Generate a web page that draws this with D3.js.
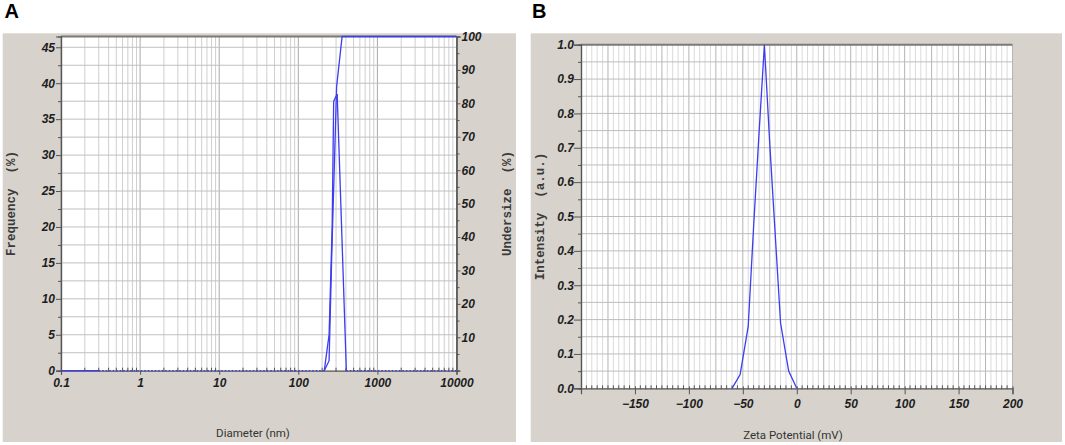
<!DOCTYPE html>
<html>
<head>
<meta charset="utf-8">
<script src="https://cdn.jsdelivr.net/npm/d3@7"></script>
<style>
    body { margin: 0; background: #ffffff; }
    svg { display: block; }
    .tick text { font-family: "Liberation Sans", Arial, sans-serif; font-weight: bold; font-style: italic; font-size: 12px; fill: #1e1e1e; }
    .ytitle { font-family: "Liberation Mono", "DejaVu Sans Mono", monospace; font-weight: bold; font-size: 12.5px; fill: #3a3a3a; }
    .xtitle { font-family: Roboto, "Liberation Sans", sans-serif; font-size: 11.5px; fill: #333333; }
    .letter { font-family: "Liberation Sans", Arial, sans-serif; font-weight: bold; font-size: 20px; fill: #000000; }
</style>
</head>
<body>
<div id="chart"></div>
<script>
// panel A: particle size distribution
var diameterTicks = [0.1, 1, 10, 100, 1000, 10000];
var diameterLabels = ['0.1', '1', '10', '100', '1000', '10000'];
var frequencyTicks = [0, 5, 10, 15, 20, 25, 30, 35, 40, 45];
var undersizeTicks = [10, 20, 30, 40, 50, 60, 70, 80, 90, 100];

var freqDiameter = [0.3, 213, 245, 268, 280, 310, 405, 10000];
var freqValue = [0, 0, 5, 20, 37.5, 38.5, 0, 0];

var undersizeDiameter = [0.1, 0.3, 1, 213, 245, 265, 305, 358, 10000];
var undersizeValue = [0, 0, null, 0, 3, 35, 85, 100, 100];

// panel B: zeta potential
var zetaTicks = [-150, -100, -50, 0, 50, 100, 150, 200];
var intensityTicks = [0, 0.1, 0.2, 0.3, 0.4, 0.5, 0.6, 0.7, 0.8, 0.9, 1.0];

var zetaValue = [-60, -52.5, -45, -40, -35, -30, -25, -20, -15, -7.5, 0];
var intensityValue = [0, 0.04, 0.18, 0.47, 0.74, 1.0, 0.71, 0.45, 0.19, 0.05, 0];

var BG = '#d7d3cc';
var LINE = '#3c3cf0';

var svg = d3.select('#chart').append('svg')
    .attr('width', 1065)
    .attr('height', 445);

function styleAxis(g) {
    g.select('.domain').attr('stroke', '#555555').attr('stroke-width', 1.2);
    g.selectAll('.tick line').attr('stroke', '#555555');
}

function sizeChart() {
    var left = 61, right = 456.5, top = 36.5, bottom = 370.7;
    svg.append('rect').attr('x', 2.7).attr('y', 33.3).attr('width', 513.3).attr('height', 408.7).attr('fill', BG);
    svg.append('text').attr('class', 'letter').attr('x', 4.5).attr('y', 17.5).text('A');
    svg.append('rect').attr('x', left).attr('y', top).attr('width', right - left).attr('height', bottom - top).attr('fill', '#ffffff');

    var x = d3.scaleLog().domain([0.1, 10000]).range([left, right]);
    var y = d3.scaleLinear().domain([0, 46.5]).range([bottom, top]);
    var y2 = d3.scaleLinear().domain([0, 100]).range([bottom, top]);

    var grid = svg.append('g');
    grid.selectAll('.vg').data(x.ticks()).enter().append('line')
        .attr('x1', function (d) { return x(d); })
        .attr('x2', function (d) { return x(d); })
        .attr('y1', top).attr('y2', bottom)
        .attr('stroke', function (d) {
            return diameterTicks.indexOf(d) >= 0 ? '#a8a8a8' : '#cfcfcf';
        })
        .attr('stroke-width', 1);
    grid.selectAll('.hg').data(d3.range(2.5, 46.5, 2.5)).enter().append('line')
        .attr('x1', left).attr('x2', right)
        .attr('y1', function (d) { return y(d); })
        .attr('y2', function (d) { return y(d); })
        .attr('stroke', '#c0c0c0')
        .attr('stroke-width', 1);

    // top frame
    svg.append('line').attr('x1', left).attr('x2', right).attr('y1', top).attr('y2', top)
        .attr('stroke', '#7a7a7a').attr('stroke-width', 2);

    // minor ticks on x axis
    svg.append('g').selectAll('line').data(x.ticks().filter(function (d) {
        return diameterTicks.indexOf(d) < 0;
    })).enter().append('line')
        .attr('x1', function (d) { return x(d); })
        .attr('x2', function (d) { return x(d); })
        .attr('y1', bottom - 3).attr('y2', bottom + 1)
        .attr('stroke', '#555555');

    var gx = svg.append('g').attr('transform', 'translate(0,' + bottom + ')')
        .call(d3.axisBottom(x).tickValues(diameterTicks).tickSize(4).tickPadding(4)
            .tickFormat(function (d, i) { return diameterLabels[i]; }));
    styleAxis(gx);

    var gy = svg.append('g').attr('transform', 'translate(' + left + ',0)')
        .call(d3.axisLeft(y).tickValues(frequencyTicks).tickSize(5).tickPadding(1));
    styleAxis(gy);
    var gym = svg.append('g').attr('transform', 'translate(' + left + ',0)')
        .call(d3.axisLeft(y).tickValues(d3.range(2.5, 46.5, 5)).tickSize(3).tickFormat(''));
    styleAxis(gym);

    var gy2 = svg.append('g').attr('transform', 'translate(' + right + ',0)')
        .call(d3.axisRight(y2).tickValues(undersizeTicks).tickSize(4).tickPadding(1));
    styleAxis(gy2);
    var gy2m = svg.append('g').attr('transform', 'translate(' + right + ',0)')
        .call(d3.axisRight(y2).tickValues(d3.range(5, 100, 10)).tickSize(3).tickFormat(''));
    styleAxis(gy2m);

    // frequency: zero runs dotted, peak solid
    var freq = freqDiameter.map(function (d, i) { return { d: d, v: freqValue[i] }; });
    var line = d3.line()
        .x(function (p) { return x(p.d); })
        .y(function (p) { return y(p.v); });
    for (var i = 0; i < freq.length - 1; i++) {
        var flat = freq[i].v === 0 && freq[i + 1].v === 0;
        svg.append('path')
            .datum([freq[i], freq[i + 1]])
            .attr('fill', 'none')
            .attr('stroke', LINE)
            .attr('stroke-width', flat ? 1.2 : 1.3)
            .attr('stroke-dasharray', flat ? '1.5,2' : null)
            .attr('d', line);
    }

    var under = undersizeDiameter.map(function (d, i) { return { d: d, v: undersizeValue[i] }; });
    svg.append('path')
        .datum(under)
        .attr('fill', 'none')
        .attr('stroke', LINE)
        .attr('stroke-width', 1.3)
        .attr('d', d3.line()
            .defined(function (p) { return p.v !== null; })
            .x(function (p) { return x(p.d); })
            .y(function (p) { return y2(p.v); }));

    svg.append('text').attr('class', 'ytitle')
        .attr('transform', 'translate(15,' + (top + bottom) / 2 + ') rotate(-90)')
        .attr('text-anchor', 'middle')
        .attr('xml:space', 'preserve')
        .text('Frequency  (%)');
    svg.append('text').attr('class', 'ytitle')
        .attr('transform', 'translate(511,' + (top + bottom) / 2 + ') rotate(-90)')
        .attr('text-anchor', 'middle')
        .attr('xml:space', 'preserve')
        .text('Undersize  (%)');
    svg.append('text').attr('class', 'xtitle')
        .attr('x', 253).attr('y', 437)
        .attr('text-anchor', 'middle')
        .text('Diameter (nm)');
}

function zetaChart() {
    var left = 581, right = 1012.5, top = 44.7, bottom = 388.3;
    svg.append('rect').attr('x', 530.7).attr('y', 33.3).attr('width', 531.3).attr('height', 408.7).attr('fill', BG);
    svg.append('text').attr('class', 'letter').attr('x', 532).attr('y', 17.5).text('B');
    svg.append('rect').attr('x', left).attr('y', top).attr('width', right - left).attr('height', bottom - top).attr('fill', '#ffffff');

    var x = d3.scaleLinear().domain([-200, 200]).range([left, right]);
    var y = d3.scaleLinear().domain([0, 1]).range([bottom, top]);

    var grid = svg.append('g');
    grid.selectAll('.vg').data(d3.range(-195, 201, 5)).enter().append('line')
        .attr('x1', function (d) { return x(d); })
        .attr('x2', function (d) { return x(d); })
        .attr('y1', top).attr('y2', bottom)
        .attr('stroke', function (d) { return d % 25 === 0 ? '#b4b4b4' : '#dadada'; })
        .attr('stroke-width', 1);
    grid.selectAll('.hg').data(d3.range(0.05, 1, 0.05)).enter().append('line')
        .attr('x1', left).attr('x2', right)
        .attr('y1', function (d) { return y(d); })
        .attr('y2', function (d) { return y(d); })
        .attr('stroke', '#bdbdbd')
        .attr('stroke-width', 1);

    svg.append('line').attr('x1', left).attr('x2', right).attr('y1', top).attr('y2', top)
        .attr('stroke', '#7a7a7a').attr('stroke-width', 2);

    // minor ticks every 5 mV
    svg.append('g').selectAll('line').data(d3.range(-195, 200, 5).filter(function (d) {
        return d % 50 !== 0;
    })).enter().append('line')
        .attr('x1', function (d) { return x(d); })
        .attr('x2', function (d) { return x(d); })
        .attr('y1', bottom - 3).attr('y2', bottom + 1)
        .attr('stroke', '#555555');

    var gx = svg.append('g').attr('transform', 'translate(0,' + bottom + ')')
        .call(d3.axisBottom(x).tickValues(zetaTicks).tickSize(6).tickPadding(5));
    styleAxis(gx);
    gx.selectAll('.tick line').attr('y1', -2);

    var gy = svg.append('g').attr('transform', 'translate(' + left + ',0)')
        .call(d3.axisLeft(y).tickValues(intensityTicks).tickSize(7).tickPadding(0)
            .tickFormat(d3.format('.1f')));
    styleAxis(gy);
    var gym = svg.append('g').attr('transform', 'translate(' + left + ',0)')
        .call(d3.axisLeft(y).tickValues(d3.range(0.05, 1, 0.1)).tickSize(3).tickFormat(''));
    styleAxis(gym);

    var pts = zetaValue.map(function (d, i) { return { z: d, v: intensityValue[i] }; });
    svg.append('path')
        .datum(pts)
        .attr('fill', 'none')
        .attr('stroke', LINE)
        .attr('stroke-width', 1.3)
        .attr('d', d3.line()
            .x(function (p) { return x(p.z); })
            .y(function (p) { return y(p.v); }));

    svg.append('text').attr('class', 'ytitle')
        .attr('transform', 'translate(544,' + (top + bottom) / 2 + ') rotate(-90)')
        .attr('text-anchor', 'middle')
        .attr('xml:space', 'preserve')
        .text('Intensity  (a.u.)');
    svg.append('text').attr('class', 'xtitle')
        .attr('x', 793).attr('y', 439)
        .attr('text-anchor', 'middle')
        .text('Zeta Potential (mV)');
}

sizeChart();
zetaChart();
</script>
</body>
</html>
